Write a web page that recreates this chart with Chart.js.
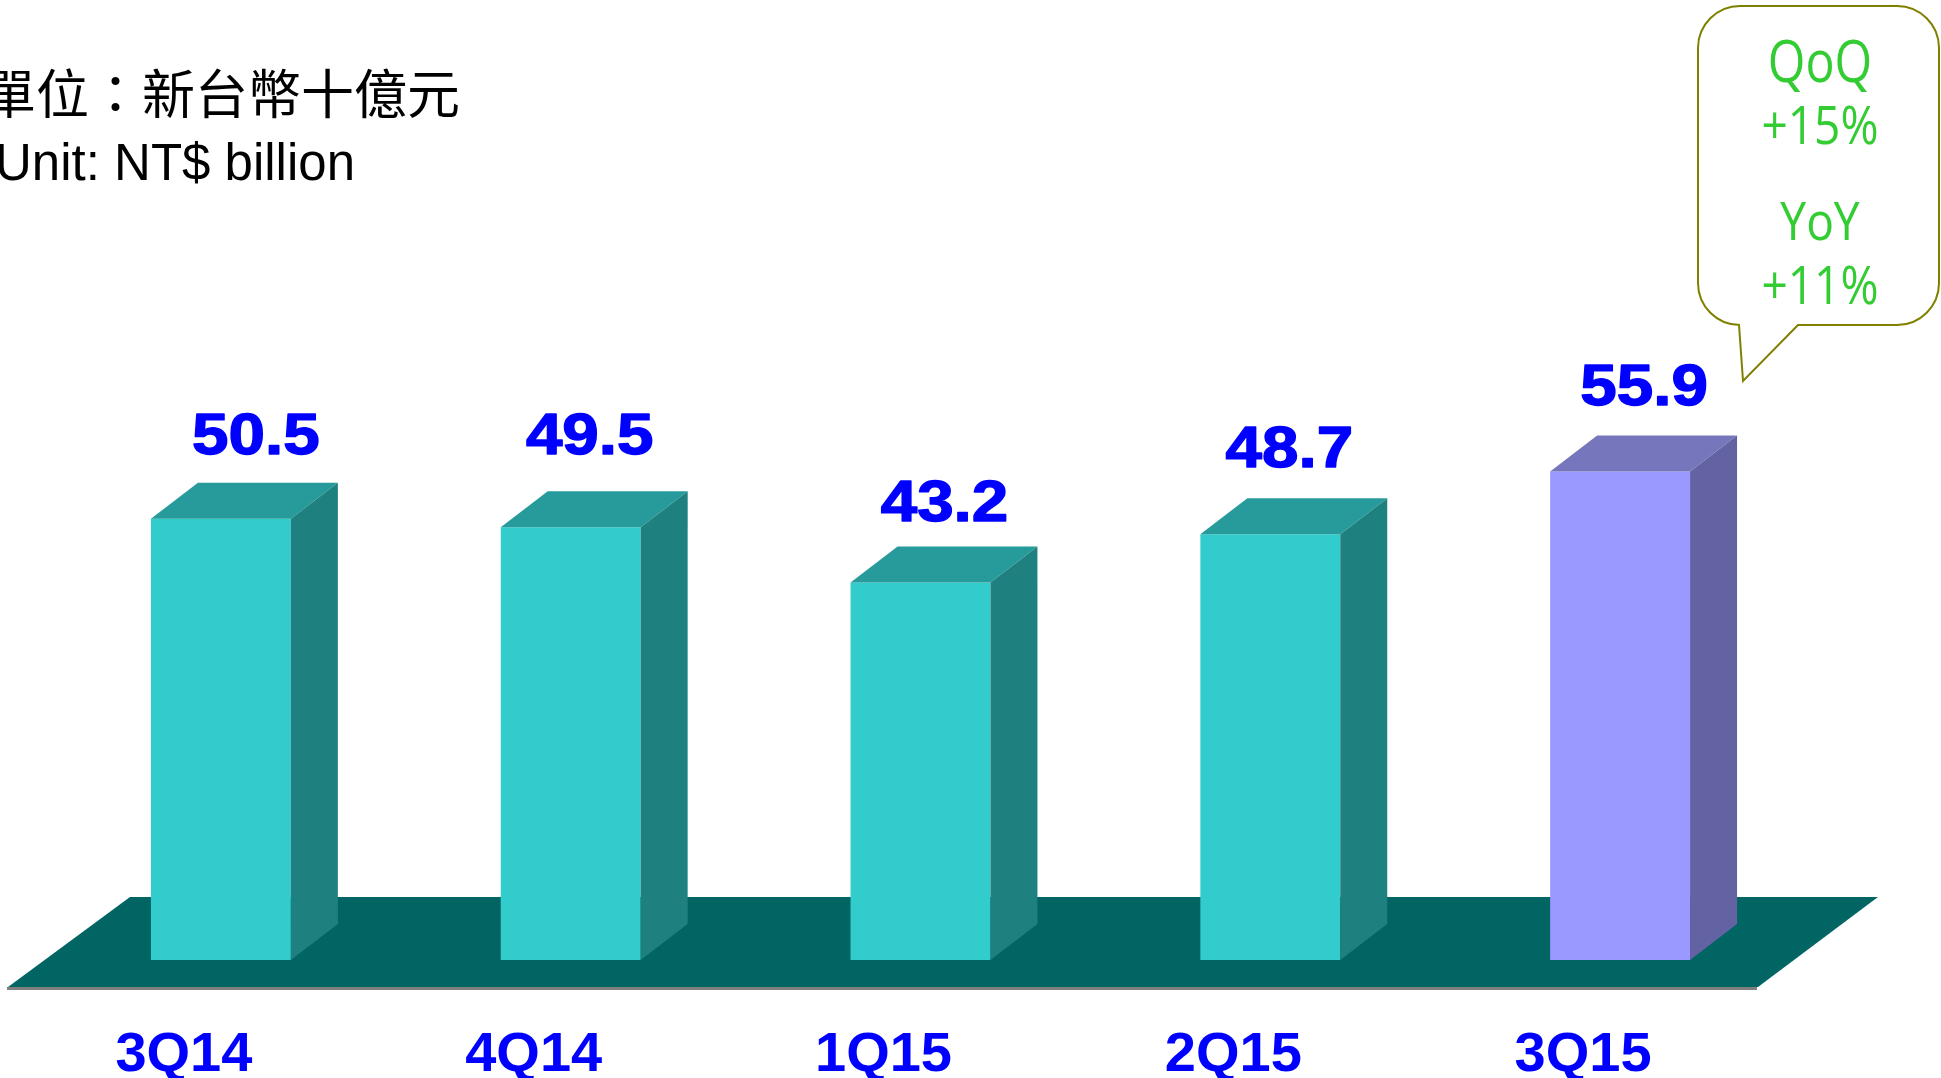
<!DOCTYPE html>
<html>
<head>
<meta charset="utf-8">
<script src="https://cdn.jsdelivr.net/npm/chart.js@4/dist/chart.umd.min.js"></script>
<style>
  html, body { margin: 0; padding: 0; background: #ffffff; }
  #wrap { width: 1941px; height: 1078px; }
</style>
</head>
<body>
<div id="wrap"><canvas id="c" width="1941" height="1078"></canvas></div>
<script>
// ---- data ----
const categories = ['3Q14', '4Q14', '1Q15', '2Q15', '3Q15'];
const revenue = [50.5, 49.5, 43.2, 48.7, 55.9];
const highlighted = [false, false, false, false, true];
const titleLines = ['單位：新台幣十億元', 'Unit: NT$ billion'];
const calloutLines = ['QoQ', '+15%', 'YoY', '+11%'];

// ---- styles ----
const frontNormal = '#33CCCC', topNormal = '#279B9B', sideNormal = '#1F817F';
const frontHi = '#9999FF', topHi = '#7676BC', sideHi = '#6363A3';
const floorColor = '#016563';
const labelBlue = '#0000FF';
const calloutGreen = '#33CC33';
const calloutBorder = '#808000';
const DX = 47, DY = 36;
// value-label placement relative to the bar (as placed in the original slide)
const labelShiftX = [35, 19, 24, 19, 24];
const labelShiftY = [-65, -73, -61, -67, -66];

const fronts = highlighted.map(h => h ? frontHi : frontNormal);

const bar3d = {
  id: 'bar3d',
  beforeDatasetsDraw(chart) {
    const ctx = chart.ctx;
    const base = chart.scales.y.getPixelForValue(0);
    const backY = base - 63, frontY = base + 27;
    ctx.save();
    ctx.fillStyle = floorColor;
    ctx.beginPath();
    ctx.moveTo(130, backY);
    ctx.lineTo(1878, backY);
    ctx.lineTo(1758, frontY);
    ctx.lineTo(8, frontY);
    ctx.closePath();
    ctx.fill();
    ctx.strokeStyle = '#808080';
    ctx.lineWidth = 3;
    ctx.beginPath();
    ctx.moveTo(7, frontY + 1.5);
    ctx.lineTo(1757, frontY + 1.5);
    ctx.stroke();
    ctx.restore();
  },
  afterDatasetsDraw(chart) {
    const ctx = chart.ctx;
    const meta = chart.getDatasetMeta(0);
    ctx.save();
    meta.data.forEach((bar, i) => {
      const p = bar.getProps(['x', 'y', 'base', 'width'], true);
      const l = p.x - p.width / 2, r = p.x + p.width / 2;
      const hi = highlighted[i];
      ctx.fillStyle = hi ? topHi : topNormal;
      ctx.beginPath();
      ctx.moveTo(l, p.y);
      ctx.lineTo(r, p.y);
      ctx.lineTo(r + DX, p.y - DY);
      ctx.lineTo(l + DX, p.y - DY);
      ctx.closePath();
      ctx.fill();
      ctx.fillStyle = hi ? sideHi : sideNormal;
      ctx.beginPath();
      ctx.moveTo(r, p.y);
      ctx.lineTo(r + DX, p.y - DY);
      ctx.lineTo(r + DX, p.base - DY);
      ctx.lineTo(r, p.base);
      ctx.closePath();
      ctx.fill();
      // value label
      ctx.save();
      ctx.translate(p.x + labelShiftX[i], p.y + labelShiftY[i]);
      ctx.scale(1.13, 1);
      ctx.fillStyle = labelBlue;
      ctx.strokeStyle = labelBlue;
      ctx.lineWidth = 1.4;
      ctx.lineJoin = 'round';
      ctx.font = 'bold 58px "Liberation Sans", Arial, sans-serif';
      ctx.textAlign = 'center';
      ctx.textBaseline = 'alphabetic';
      const txt = revenue[i].toFixed(1);
      ctx.fillText(txt, 0, 0);
      ctx.strokeText(txt, 0, 0);
      ctx.restore();
      // category label
      ctx.fillStyle = labelBlue;
      ctx.font = 'bold 56px "Liberation Sans", Arial, sans-serif';
      ctx.textAlign = 'center';
      ctx.textBaseline = 'alphabetic';
      ctx.fillText(categories[i], p.x - 37, 1071);
    });
    ctx.restore();
  },
  afterDraw(chart) {
    const ctx = chart.ctx;
    ctx.save();
    ctx.fillStyle = '#000000';
    ctx.textAlign = 'right';
    ctx.textBaseline = 'alphabetic';
    ctx.font = '53px "Noto Sans CJK TC", "Noto Sans CJK SC", sans-serif';
    ctx.fillText(titleLines[0], 460, 114);
    ctx.font = '51px "Liberation Sans", Arial, sans-serif';
    ctx.fillText(titleLines[1], 355, 180);

    const L = 1698, T = 6, R = 1939, B = 325, rad = 42;
    ctx.strokeStyle = calloutBorder;
    ctx.lineWidth = 2;
    ctx.fillStyle = '#ffffff';
    ctx.beginPath();
    ctx.moveTo(L + rad, T);
    ctx.lineTo(R - rad, T);
    ctx.arcTo(R, T, R, T + rad, rad);
    ctx.lineTo(R, B - rad);
    ctx.arcTo(R, B, R - rad, B, rad);
    ctx.lineTo(1798, B);
    ctx.lineTo(1743, 381);
    ctx.lineTo(1739, B);
    ctx.lineTo(L + rad, B);
    ctx.arcTo(L, B, L, B - rad, rad);
    ctx.lineTo(L, T + rad);
    ctx.arcTo(L, T, L + rad, T, rad);
    ctx.closePath();
    ctx.fill();
    ctx.stroke();

    const baselines = [82, 144, 240, 304];
    const sizes = [59, 53, 53, 53];
    const sx = [0.82, 0.87, 0.87, 0.87];
    ctx.fillStyle = calloutGreen;
    ctx.textAlign = 'center';
    calloutLines.forEach((t, i) => {
      ctx.save();
      ctx.font = sizes[i] + 'px "Open Sans", "Noto Sans", sans-serif';
      ctx.translate(1820, baselines[i]);
      ctx.scale(sx[i], 1);
      ctx.fillText(t, 0, 0);
      ctx.restore();
    });
    ctx.restore();
  }
};

new Chart(document.getElementById('c'), {
  type: 'bar',
  data: {
    labels: categories,
    datasets: [{
      data: revenue,
      backgroundColor: fronts,
      borderWidth: 0,
      barPercentage: 0.4,
      categoryPercentage: 1.0
    }]
  },
  options: {
    responsive: false,
    animation: false,
    devicePixelRatio: 1,
    layout: { padding: { left: 46, right: 146, top: 86, bottom: 118 } },
    scales: {
      x: { display: false, offset: true },
      y: { display: false, min: 0, max: 100 }
    },
    plugins: { legend: { display: false }, tooltip: { enabled: false } }
  },
  plugins: [bar3d]
});
</script>
</body>
</html>
